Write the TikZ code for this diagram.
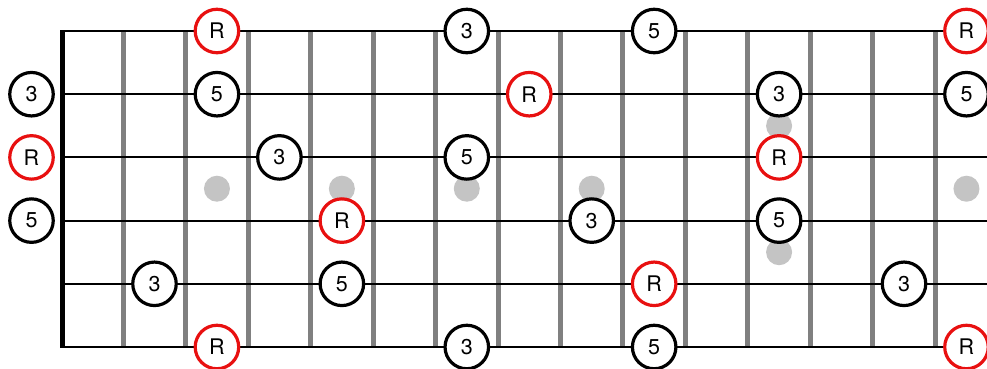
\documentclass[tikz,border=0pt]{standalone}
\usepackage{fontspec}
\setmainfont{TeX Gyre Heros}
\definecolor{fretgray}{RGB}{128,128,128}
\definecolor{inlaygray}{RGB}{196,196,196}
\definecolor{rootred}{RGB}{232,16,16}
\begin{document}
\begin{tikzpicture}[x=1pt,y=-1pt,
  note/.style={circle,draw=black,fill=white,line width=3.2pt,minimum size=43.5pt,inner sep=0pt,font=\fontsize{21.5}{21.5}\selectfont},
  root/.style={note,draw=rootred},
  stringline/.style={line width=2pt,black},
  fretline/.style={line width=5pt,draw=fretgray},
  nutline/.style={line width=5pt,draw=black},
  inlay/.style={circle,fill=inlaygray,minimum size=26pt,inner sep=0pt}]
\useasboundingbox[fill=white] (0,0) rectangle (987,368);
\def\NX{60.8}\def\FW{62.46}
% strings
\foreach \s/\yy in {1/31,2/94.2,3/157.4,4/220.6,5/283.8,6/347}{
  \coordinate (sa\s) at (60,\yy);
  \coordinate (sb\s) at (987,\yy);
}
% frets
\foreach \k in {1,...,14}{
  \coordinate (ft\k) at ({\NX+\k*\FW},31);
  \coordinate (fb\k) at ({\NX+\k*\FW},347);
  \draw[fretline] (ft\k) -- (fb\k);
}
% inlays
\node[inlay] (d3) at ({\NX+2.5*\FW},188.7) {};
\node[inlay] (d5) at ({\NX+4.5*\FW},188.7) {};
\node[inlay] (d7) at ({\NX+6.5*\FW},188.7) {};
\node[inlay] (d9) at ({\NX+8.5*\FW},188.7) {};
\node[inlay] (d12a) at ({\NX+11.5*\FW},125.8) {};
\node[inlay] (d12b) at ({\NX+11.5*\FW},252.2) {};
\node[inlay] (d15) at ({\NX+14.5*\FW},188.7) {};
% string lines
\foreach \s in {1,...,6}{ \draw[stringline] (sa\s) -- (sb\s); }
% nut
\coordinate (nt) at (62.5,30);
\coordinate (nb) at (62.5,348);
\draw[nutline] (nt) -- (nb);
% notes, string 1
\node[root] (n1a) at ({\NX+2.5*\FW},31) {R};
\node[note] (n1b) at ({\NX+6.5*\FW},31) {3};
\node[note] (n1c) at ({\NX+9.5*\FW},31) {5};
\node[root] (n1d) at ({\NX+14.5*\FW},31) {R};
% string 2
\node[note] (n2o) at (31.5,94.2) {3};
\node[note] (n2a) at ({\NX+2.5*\FW},94.2) {5};
\node[root] (n2b) at ({\NX+7.5*\FW},94.2) {R};
\node[note] (n2c) at ({\NX+11.5*\FW},94.2) {3};
\node[note] (n2d) at ({\NX+14.5*\FW},94.2) {5};
% string 3
\node[root] (n3o) at (31.5,157.4) {R};
\node[note] (n3a) at ({\NX+3.5*\FW},157.4) {3};
\node[note] (n3b) at ({\NX+6.5*\FW},157.4) {5};
\node[root] (n3c) at ({\NX+11.5*\FW},157.4) {R};
% string 4
\node[note] (n4o) at (31.5,220.6) {5};
\node[root] (n4a) at ({\NX+4.5*\FW},220.6) {R};
\node[note] (n4b) at ({\NX+8.5*\FW},220.6) {3};
\node[note] (n4c) at ({\NX+11.5*\FW},220.6) {5};
% string 5
\node[note] (n5a) at ({\NX+1.5*\FW},283.8) {3};
\node[note] (n5b) at ({\NX+4.5*\FW},283.8) {5};
\node[root] (n5c) at ({\NX+9.5*\FW},283.8) {R};
\node[note] (n5d) at ({\NX+13.5*\FW},283.8) {3};
% string 6
\node[root] (n6a) at ({\NX+2.5*\FW},347) {R};
\node[note] (n6b) at ({\NX+6.5*\FW},347) {3};
\node[note] (n6c) at ({\NX+9.5*\FW},347) {5};
\node[root] (n6d) at ({\NX+14.5*\FW},347) {R};
\end{tikzpicture}
\end{document}
